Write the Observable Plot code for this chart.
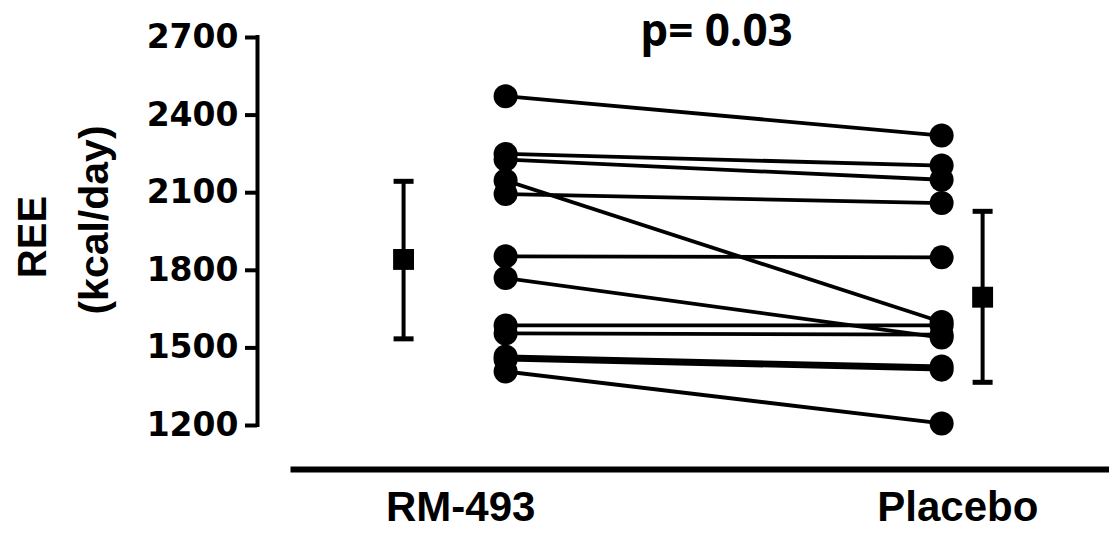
<!DOCTYPE html>
<html>
<head>
<meta charset="utf-8">
<script src="https://cdn.jsdelivr.net/npm/d3@7"></script>
<script src="https://cdn.jsdelivr.net/npm/@observablehq/plot@0.6"></script>
<style>
  html, body { margin: 0; padding: 0; background: #fff; }
  #chart svg { display: block; }
</style>
</head>
<body>
<div id="chart"></div>
<script>
// ---- data ----
const groups = ["RM-493", "Placebo"];
const rm493   = [2473, 2250, 2228, 2147, 2095, 1854, 1770, 1587, 1556, 1467, 1455, 1409];
const placebo = [2321, 2205, 2150, 1600, 2060, 1850, 1540, 1587, 1551, 1428, 1416, 1208];
const groupMean  = [1842, 1696];
const groupLower = [1535, 1367];
const groupUpper = [2144, 2028];
const yTicks = [1200, 1500, 1800, 2100, 2400, 2700];
const pLabel = "p= 0.03";
const yLabel1 = "REE";
const yLabel2 = "(kcal/day)";

// ---- layout (x positions in scale units: group i at i+1) ----
const groupX = [1, 2];
const meanOffset = [-0.234, 0.094];
const labelOffset = [-0.103, 0.037];
const xDomain = [0.431, 2.385];

const pairs = rm493.map((v, i) => ({rm: v, pl: placebo[i]}));
const means = groups.map((g, i) => ({
  x: groupX[i] + meanOffset[i], mean: groupMean[i], lo: groupLower[i], hi: groupUpper[i]
}));
const caps = means.flatMap(d => [{x: d.x, y: d.lo}, {x: d.x, y: d.hi}]);
const capSymbol = {draw(ctx) { ctx.rect(-10, -2.5, 20, 5); }};

const bold = "'Liberation Sans', Arial, sans-serif";

const chart = Plot.plot({
  width: 1109,
  height: 534,
  marginLeft: 257,
  marginRight: 0,
  marginTop: 0,
  marginBottom: 65,
  x: {domain: xDomain, axis: null},
  y: {domain: [1200, 2700], range: [425, 37], axis: null},
  marks: [
    Plot.frame({anchor: "bottom", strokeWidth: 6, insetLeft: 36}),
    Plot.ruleX([xDomain[0]], {y1: 1200, y2: 2700, strokeWidth: 4, strokeLinecap: "square"}),
    Plot.axisY({
      ticks: yTicks, tickFormat: d => String(d), tickSize: 12, tickPadding: 7, strokeWidth: 4, label: null,
      fontSize: 33, fontWeight: "bold", fontFamily: "'DejaVu Sans', sans-serif", fill: "black"
    }),
    Plot.link(pairs, {x1: () => groupX[0], x2: () => groupX[1], y1: "rm", y2: "pl", strokeWidth: 3.8, stroke: "black"}),
    Plot.dot(rm493, {x: () => groupX[0], y: d => d, r: 12, fill: "black"}),
    Plot.dot(placebo, {x: () => groupX[1], y: d => d, r: 12, fill: "black"}),
    Plot.ruleX(means, {x: "x", y1: "lo", y2: "hi", strokeWidth: 4}),
    Plot.dot(caps, {x: "x", y: "y", symbol: capSymbol, r: 5, fill: "black"}),
    Plot.dot(means, {x: "x", y: "mean", symbol: "square", r: 11.8, fill: "black"}),
    Plot.text(groups, {x: (d, i) => groupX[i] + labelOffset[i], text: d => d, frameAnchor: "bottom",
      lineAnchor: "middle", dy: 38,
      fontSize: 42, fontWeight: "bold", fontFamily: bold, fill: "black"}),
    Plot.text([yLabel1], {text: d => d, frameAnchor: "left", textAnchor: "middle", lineAnchor: "middle",
      rotate: -90, dx: -224, dy: 2,
      fontSize: 40, fontWeight: "bold", fontFamily: bold, fill: "black"}),
    Plot.text([yLabel2], {text: d => d, frameAnchor: "left", textAnchor: "middle", lineAnchor: "middle",
      rotate: -90, dx: -163, dy: -15,
      fontSize: 41, fontWeight: "bold", fontFamily: bold, fill: "black"}),
    Plot.text([pLabel], {text: d => d, frameAnchor: "top", lineAnchor: "middle", dx: 33, dy: 31,
      fontSize: 44, fontWeight: "bold", fontFamily: "'Open Sans', sans-serif", fill: "black"})
  ]
});
document.getElementById("chart").appendChild(chart);
</script>
</body>
</html>
